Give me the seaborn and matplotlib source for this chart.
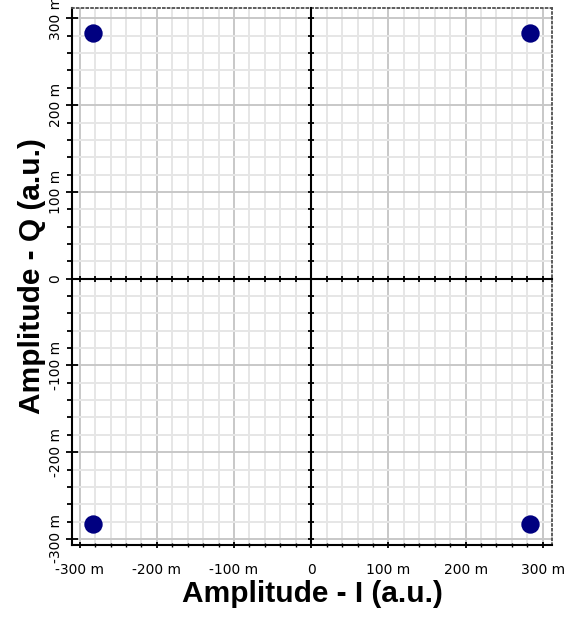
import matplotlib
matplotlib.use("Agg")
import matplotlib.pyplot as plt
from matplotlib.ticker import MultipleLocator, FuncFormatter
import seaborn as sns
import pandas as pd

# constellation points (a.u.)
amp_i = [-0.283, 0.283, -0.283, 0.283]
amp_q = [0.283, 0.283, -0.283, -0.283]

x_range = (-0.31, 0.312)
y_range = (-0.307, 0.312)

sns.set_style("white")
plt.rcParams['font.family'] = ['DejaVu Sans']
plt.rcParams['text.color'] = 'black'
plt.rcParams['axes.labelcolor'] = 'black'
plt.rcParams['xtick.color'] = 'black'
plt.rcParams['ytick.color'] = 'black'


def milli(v, pos):
    if abs(v) < 1e-9:
        return "0"
    return f"{v * 1000:.0f} m"


df = pd.DataFrame({'I': amp_i, 'Q': amp_q})

fig = plt.figure(figsize=(5.7, 6.21), dpi=100)
rect = [72 / 570, 76 / 621, 480 / 570, 537 / 621]
ax = fig.add_axes(rect)

ax.set_xlim(*x_range)
ax.set_ylim(*y_range)
for axis in (ax.xaxis, ax.yaxis):
    axis.set_major_locator(MultipleLocator(0.1))
    axis.set_minor_locator(MultipleLocator(0.02))
    axis.set_major_formatter(FuncFormatter(milli))

ax.set_axisbelow(True)
ax.grid(which='major', color='#c8c8c8', linewidth=1.4)
ax.grid(which='minor', color='#e6e6e6', linewidth=1.4)

for side in ('left', 'bottom'):
    ax.spines[side].set_color('black')
    ax.spines[side].set_linewidth(1.5)
for side in ('top', 'right'):
    ax.spines[side].set_color('#505050')
    ax.spines[side].set_linewidth(1.3)
    ax.spines[side].set_linestyle(':')

ax.tick_params(axis='y', which='major', direction='inout', length=8.5, width=1.3,
               labelsize=10, labelrotation=90, pad=2.5, left=True)
ax.tick_params(axis='y', which='minor', direction='out', length=3.6, width=1.3, left=True)
ax.tick_params(axis='x', which='major', direction='inout', length=4, width=1.3,
               labelsize=10, pad=11, bottom=True)
ax.tick_params(axis='x', which='minor', direction='inout', length=2.5, width=1.0, bottom=True)
for lbl in ax.get_yticklabels():
    lbl.set_va('center')

sns.scatterplot(data=df, x='I', y='Q', ax=ax, color='#000080', s=175,
                linewidth=0, zorder=5)

ax.set_xlabel('Amplitude - I (a.u.)', family='Liberation Sans', fontweight='bold',
              fontsize=21.5, labelpad=2, color='black')
ax.set_ylabel('Amplitude - Q (a.u.)', family='Liberation Sans', fontweight='bold',
              fontsize=21.5, labelpad=2, color='black')

# centre cross axes through the origin
ax0 = fig.add_axes(rect)
ax0.set_xlim(*x_range)
ax0.set_ylim(*y_range)
ax0.patch.set_visible(False)
for side in ('top', 'right'):
    ax0.spines[side].set_visible(False)
for side in ('left', 'bottom'):
    ax0.spines[side].set_position(('data', 0))
    ax0.spines[side].set_color('black')
    ax0.spines[side].set_linewidth(1.5)
ax0.xaxis.set_major_locator(MultipleLocator(0.02))
ax0.yaxis.set_major_locator(MultipleLocator(0.02))
ax0.tick_params(which='both', direction='inout', length=4, width=1.3,
                labelleft=False, labelbottom=False, left=True, bottom=True)

fig.savefig('out.png', dpi=100)
